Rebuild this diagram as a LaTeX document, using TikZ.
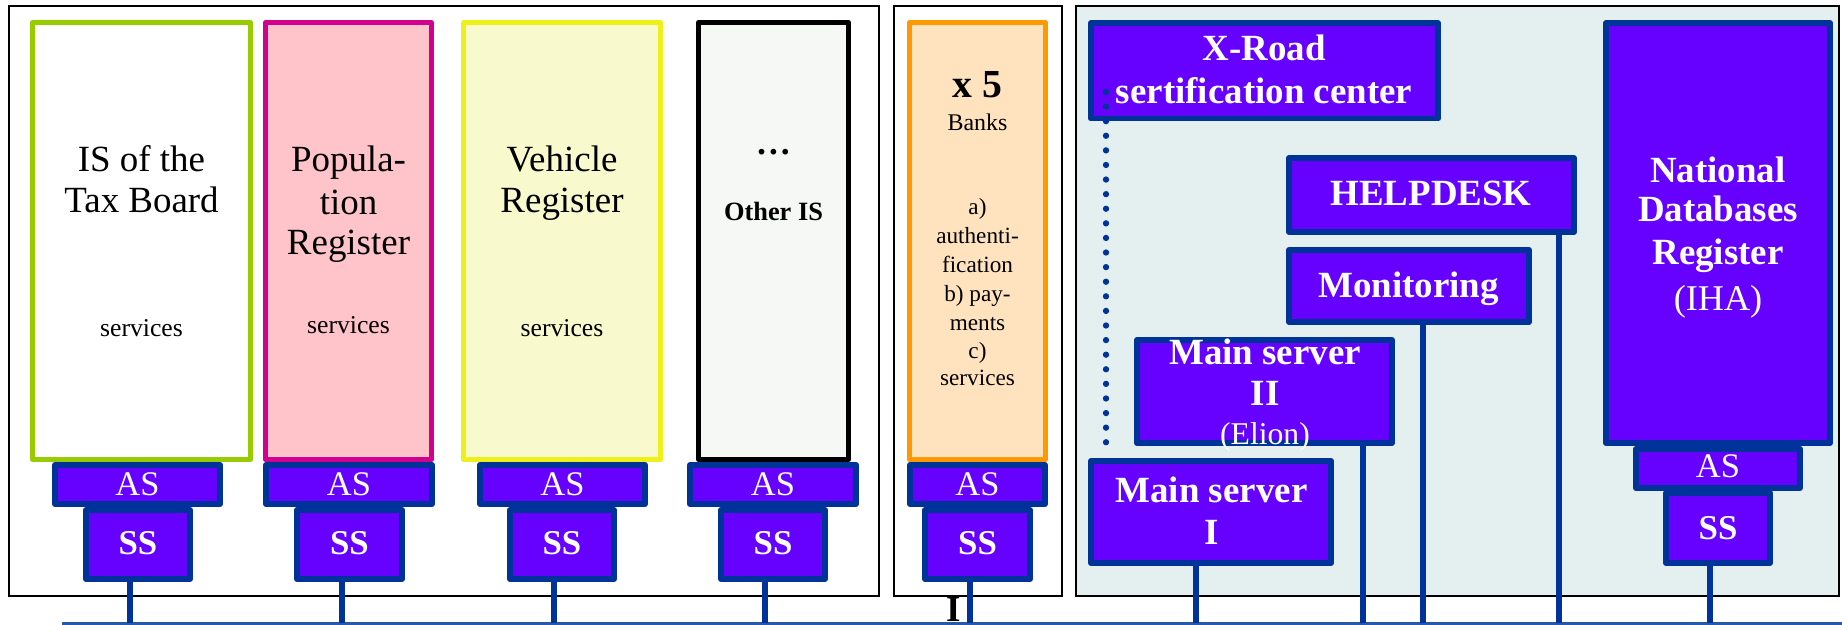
\documentclass[tikz,border=0pt]{standalone}
\usepackage{fontspec}
\setmainfont{Liberation Serif}
\usetikzlibrary{fit}
\definecolor{purp}{HTML}{6600FF}
\definecolor{dblue}{HTML}{003399}
\definecolor{busblue}{HTML}{2A58A6}
\definecolor{taxgreen}{HTML}{99CC00}
\definecolor{popmag}{HTML}{D1008D}
\definecolor{popfill}{HTML}{FFC4CA}
\definecolor{vehyel}{HTML}{EEF01A}
\definecolor{vehfill}{HTML}{F8F9CC}
\definecolor{othfill}{HTML}{F6F8F5}
\definecolor{bankor}{HTML}{FF9900}
\definecolor{bankfill}{HTML}{FFE3BE}
\definecolor{teal}{HTML}{E4F0F0}
\tikzset{
  frame/.style={draw=black, line width=0.6pt, inner sep=0pt},
  isbox/.style={line width=1.45pt, inner sep=0pt, line join=round},
  bluebox/.style={draw=dblue, fill=purp, line width=1.7pt, inner sep=0pt, line join=round},
  conn/.style={draw=dblue, line width=1.7pt},
  txt/.style={anchor=base, inner sep=0pt, align=center},
  big/.style={font=\fontsize{10.5}{12}\selectfont},
  bigb/.style={font=\fontsize{10.5}{12}\selectfont\bfseries, text=white},
  svc/.style={font=\fontsize{7.3}{8.5}\selectfont},
  bank/.style={font=\fontsize{6.6}{8}\selectfont},
  astxt/.style={font=\fontsize{9.8}{11}\selectfont, text=white},
  sstxt/.style={font=\fontsize{9.9}{11}\selectfont\bfseries, text=white},
}
\begin{document}
\begin{tikzpicture}[x=0.01cm, y=-0.01cm]
\useasboundingbox (0,0) rectangle (1842,625);
% frames
\node[frame, fit={(9,6) (879,596)}] (f1) {};
\node[frame, fill=teal, fit={(1076,6) (1839,596)}] (f3) {};
\node[frame, fit={(894,6) (1062,596)}] (f2) {};
% bus
\coordinate (busL) at (62,623.5);
\coordinate (busR) at (1842,623.5);
\draw[busblue, line width=0.7pt] (busL) -- (busR);
% bus attachment points
\coordinate (k1) at (130,623);
\coordinate (k2) at (342,623);
\coordinate (k3) at (554,623);
\coordinate (k4) at (765,623);
\coordinate (k5) at (970,623);
\coordinate (k6) at (1196,623);
\coordinate (k7) at (1363,623);
\coordinate (k8) at (1423,623);
\coordinate (k9) at (1559,623);
\coordinate (k10) at (1710,623);
% AS / SS boxes, frame 1
\node[bluebox, fit={(55,465) (220,504)}] (as1) {};
\node[bluebox, fit={(86,510) (190,579)}] (ss1) {};
\node[bluebox, fit={(266,465) (432,504)}] (as2) {};
\node[bluebox, fit={(297,510) (402,579)}] (ss2) {};
\node[bluebox, fit={(480,465) (645,504)}] (as3) {};
\node[bluebox, fit={(510,510) (614,579)}] (ss3) {};
\node[bluebox, fit={(690,465) (856,504)}] (as4) {};
\node[bluebox, fit={(721,510) (825,579)}] (ss4) {};
\node[bluebox, fit={(910,465) (1045,504)}] (as5) {};
\node[bluebox, fit={(925,510) (1030,579)}] (ss5) {};
% IS boxes
\node[isbox, draw=taxgreen, fill=white, fit={(32.5,22.5) (250.5,459.5)}] (tax) {};
\node[isbox, draw=popmag, fill=popfill, fit={(265.5,22.5) (431.5,459.5)}] (pop) {};
\node[isbox, draw=vehyel, fill=vehfill, fit={(463.5,22.5) (660.5,459.5)}] (veh) {};
\node[isbox, draw=black, fill=othfill, fit={(698.5,22.5) (848.5,459.5)}] (oth) {};
\node[isbox, draw=bankor, fill=bankfill, fit={(909.5,22.5) (1045.5,459.5)}] (bnk) {};
% right frame boxes
\node[bluebox, fit={(1091,23) (1438,118.5)}] (xr) {};
\node[bluebox, fit={(1289,158) (1574,232)}] (hd) {};
\node[bluebox, fit={(1289,250) (1529,322)}] (mon) {};
\node[bluebox, fit={(1137,340) (1392,443)}] (ms2) {};
\node[bluebox, fit={(1091,461) (1331,563)}] (ms1) {};
\node[bluebox, fit={(1636,449) (1800,488)}] (as6) {};
\node[bluebox, fit={(1666,493) (1770,563)}] (ss6) {};
\node[bluebox, fit={(1606,23) (1830,443)}] (ndr) {};
% dotted line
\coordinate (dotA) at (1106,92);
\draw[dblue, line width=1.8pt, line cap=round, dash pattern=on 0pt off 4.15pt] (dotA) -- (dotA |- ms2.south);
% connectors
\draw[conn] (ss1.south -| k1) -- (k1);
\draw[conn] (ss2.south -| k2) -- (k2);
\draw[conn] (ss3.south -| k3) -- (k3);
\draw[conn] (ss4.south -| k4) -- (k4);
\draw[conn] (ss5.south -| k5) -- (k5);
\draw[conn] (ms1.south -| k6) -- (k6);
\draw[conn] (ms2.south -| k7) -- (k7);
\draw[conn] (mon.south -| k8) -- (k8);
\draw[conn] (hd.south -| k9) -- (k9);
\draw[conn] (ss6.south -| k10) -- (k10);
% black I mark
\node[txt, font=\fontsize{10.5}{12}\selectfont\bfseries] (imark) at (954,621.5) {I};
% texts: tax
\node[txt, big] (t1a) at (141.5,172) {IS of the};
\node[txt, big] (t1b) at (141.5,213) {Tax Board};
\node[txt, svc] (t1c) at (141.5,337) {services};
% pop
\node[txt, big] (t2a) at (348.5,172) {Popula-};
\node[txt, big] (t2b) at (348.5,215) {tion};
\node[txt, big] (t2c) at (348.5,255) {Register};
\node[txt, svc] (t2d) at (348.5,334) {services};
% veh
\node[txt, big] (t3a) at (562,172) {Vehicle};
\node[txt, big] (t3b) at (562,213) {Register};
\node[txt, svc] (t3c) at (562,337) {services};
% other
\node[txt, font=\fontsize{10}{12}\selectfont\bfseries] (t4a) at (773.5,155) {…};
\node[txt, font=\fontsize{7.5}{9}\selectfont\bfseries] (t4b) at (773.5,221) {Other IS};
% banks
\node[txt, font=\fontsize{11.3}{13}\selectfont\bfseries] (t5a) at (977.5,98) {x 5};
\node[txt, font=\fontsize{6.8}{8}\selectfont] (t5b) at (977.5,131) {Banks};
\node[txt, bank] (t5c) at (977.5,215) {a)};
\node[txt, bank] (t5d) at (977.5,244) {authenti-};
\node[txt, bank] (t5e) at (977.5,273) {fication};
\node[txt, bank] (t5f) at (977.5,302) {b) pay-};
\node[txt, bank] (t5g) at (977.5,331) {ments};
\node[txt, bank] (t5h) at (977.5,359) {c)};
\node[txt, bank] (t5i) at (977.5,386) {services};
% AS / SS labels
\node[txt, astxt] (l1) at (as1.center |- 0,496) {AS};
\node[txt, sstxt] (l2) at (ss1.center |- 0,555) {SS};
\node[txt, astxt] (l3) at (as2.center |- 0,496) {AS};
\node[txt, sstxt] (l4) at (ss2.center |- 0,555) {SS};
\node[txt, astxt] (l5) at (as3.center |- 0,496) {AS};
\node[txt, sstxt] (l6) at (ss3.center |- 0,555) {SS};
\node[txt, astxt] (l7) at (as4.center |- 0,496) {AS};
\node[txt, sstxt] (l8) at (ss4.center |- 0,555) {SS};
\node[txt, astxt] (l9) at (as5.center |- 0,496) {AS};
\node[txt, sstxt] (l10) at (ss5.center |- 0,555) {SS};
\node[txt, astxt] (l11) at (as6.center |- 0,478) {AS};
\node[txt, sstxt] (l12) at (ss6.center |- 0,540) {SS};
% right texts
\node[txt, bigb] (x1) at (1264,60.5) {X-Road};
\node[txt, bigb] (x2) at (1264,104) {sertification center};
\node[txt, bigb] (h1) at (1431,206) {HELPDESK};
\node[txt, bigb] (m1) at (1408.5,298) {Monitoring};
\node[txt, bigb] (s2a) at (1265,365) {Main server};
\node[txt, bigb] (s2b) at (1265,405.5) {II};
\node[txt, font=\fontsize{9}{10}\selectfont, text=white] (s2c) at (1265,445) {(Elion)};
\node[txt, bigb] (s1a) at (1211.5,503) {Main server};
\node[txt, bigb] (s1b) at (1211.5,545) {I};
\node[txt, bigb] (n1) at (1718,182.5) {National};
\node[txt, bigb] (n2) at (1718,222) {Databases};
\node[txt, bigb] (n3) at (1718,265) {Register};
\node[txt, font=\fontsize{10.3}{12}\selectfont, text=white] (n4) at (1718,311) {(IHA)};
\end{tikzpicture}
\end{document}
